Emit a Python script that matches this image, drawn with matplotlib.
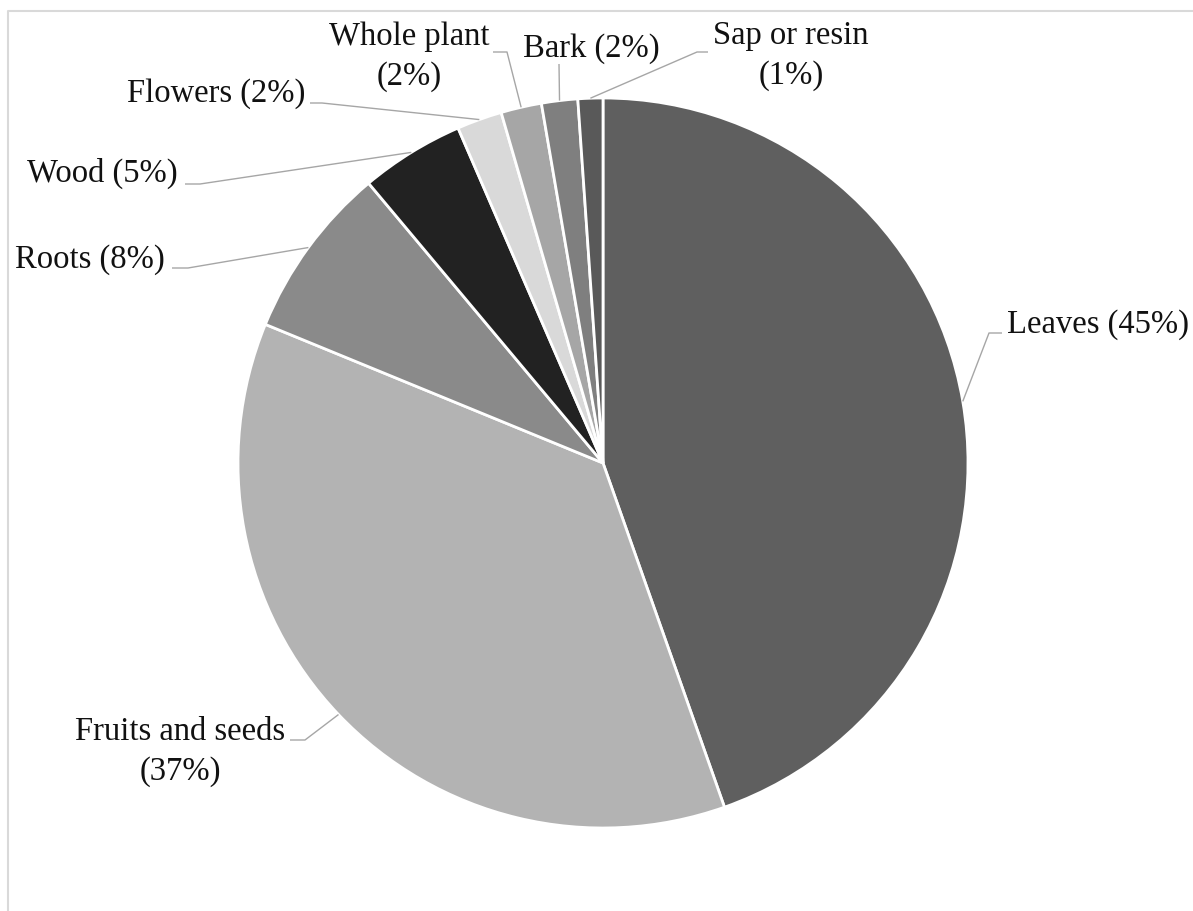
import matplotlib
matplotlib.use("Agg")
import matplotlib.pyplot as plt
import numpy as np

# Plant parts used (share of records, %)
parts = ["Leaves", "Fruits and seeds", "Roots", "Wood", "Flowers",
         "Whole plant", "Bark", "Sap or resin"]
shares = [44.6, 36.6, 7.7, 4.6, 2.0, 1.8, 1.6, 1.1]
colors = ["#5f5f5f", "#b3b3b3", "#8a8a8a", "#222222", "#d9d9d9",
          "#a6a6a6", "#7f7f7f", "#595959"]
# separator between the part name and its percentage
separators = [" ", "\n", " ", " ", " ", "\n", " ", "\n"]

W, H = 1193, 911
fig = plt.figure(figsize=(W / 100, H / 100), dpi=100)
ax = fig.add_axes([0, 0, 1, 1])

cx, cy, R = 603, H - 463, 365
wedges, _ = ax.pie(shares, colors=colors, startangle=90, counterclock=False,
                   center=(cx, cy), radius=R,
                   wedgeprops=dict(edgecolor="white", linewidth=2))
ax.set_xlim(0, W)
ax.set_ylim(0, H)
ax.set_aspect("equal")
ax.set_position([0, 0, 1, 1])
ax.axis("off")

# label layout in pixel space (y measured from top): text anchor (baseline of
# the last line), alignment, and the leader path from the text toward the wedge
layout = [
    dict(xy=(1007, 333), ha="left",   lead=[(1002, 333), (989, 333)]),
    dict(xy=(180, 780),  ha="center", lead=[(290, 740), (305, 740)]),
    dict(xy=(165, 268),  ha="right",  lead=[(172, 268), (188, 268)]),
    dict(xy=(178, 182),  ha="right",  lead=[(185, 184), (200, 184)]),
    dict(xy=(305, 102),  ha="right",  lead=[(310, 103), (322, 103)]),
    dict(xy=(409, 85),   ha="center", lead=[(493, 52), (507, 52)]),
    dict(xy=(591, 57),   ha="center", lead=[(559, 64)]),
    dict(xy=(791, 84),   ha="center", lead=[(708, 52), (697, 52)]),
]

for w, name, val, sep, lay in zip(wedges, parts, shares, separators, layout):
    mid = np.deg2rad((w.theta1 + w.theta2) / 2)
    ax_pt = (cx + R * np.cos(mid), cy + R * np.sin(mid))
    xs = [p[0] for p in lay["lead"]] + [ax_pt[0]]
    ys = [H - p[1] for p in lay["lead"]] + [ax_pt[1]]
    ax.plot(xs, ys, color="#a6a6a6", lw=1.0, solid_capstyle="butt", zorder=1)
    ax.text(lay["xy"][0], H - lay["xy"][1], f"{name}{sep}({val:.0f}%)",
            ha=lay["ha"], va="baseline", multialignment="center",
            fontsize=23.5, family="Liberation Serif", color="#111111",
            linespacing=1.38)

# light frame along the top and left edges
ax.plot([8, 8, W + 5], [-5, H - 11, H - 11], color="#d9d9d9", lw=1.5,
        clip_on=False)

fig.savefig("out.png", dpi=100, facecolor="white")
